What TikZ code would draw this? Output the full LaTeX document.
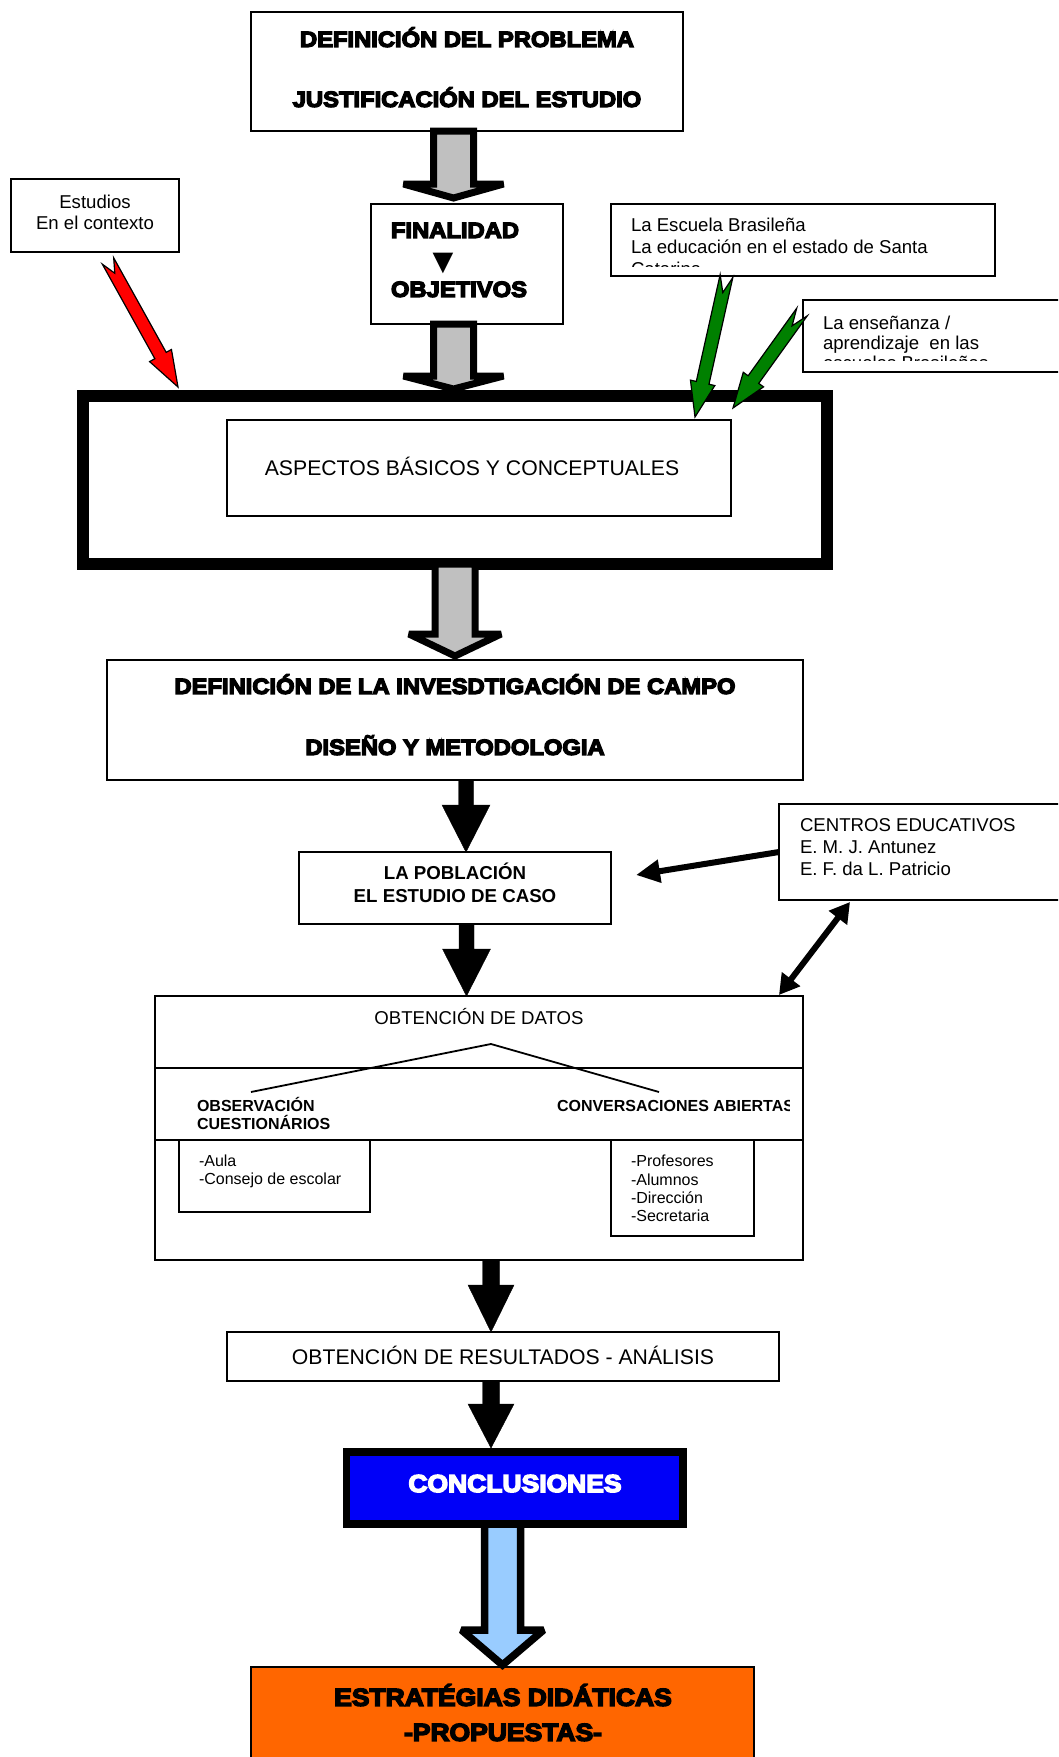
\documentclass[tikz,border=0pt]{standalone}
\usepackage{fontspec}
\setmainfont{Liberation Sans}
\newfontfamily\heavy[FakeBold=6,FakeStretch=1.08]{Liberation Sans Bold}
\newfontfamily\dejavu{DejaVu Sans}
\usetikzlibrary{calc,arrows.meta}
\definecolor{grayfill}{HTML}{C0C0C0}
\definecolor{lblue}{HTML}{99CCFF}
\definecolor{orng}{HTML}{FF6600}
\definecolor{dgreen}{HTML}{008000}
\definecolor{cblue}{HTML}{0000F8}
\newcommand\setfs[2]{\fontsize{#1}{#2}\selectfont}
% vertical block arrow: tail, tip, shaft half width, head half width, head length, style
\newcommand\vblock[6]{\draw[#6] let \p1=(#1), \p2=(#2) in (\x1-#3,\y1) -- (\x1-#3,\y2+#5) -- (\x1-#4,\y2+#5) -- (\x1,\y2) -- (\x1+#4,\y2+#5) -- (\x1+#3,\y2+#5) -- (\x1+#3,\y1) -- cycle;}
% notched arrow: tail, tip, shaft half, head half, head length, notch depth, style
\newcommand\notcharrow[7]{%
 \coordinate (nb) at ($(#2)!#5!(#1)$);
 \draw[#7] ($(#1)!#3!90:(#2)$) -- ($(nb)!#3!90:(#2)$) -- ($(nb)!#4!90:(#2)$) -- (#2) -- ($(nb)!#4!-90:(#2)$) -- ($(nb)!#3!-90:(#2)$) -- ($(#1)!#3!-90:(#2)$) -- ($(#1)!#6!(#2)$) -- cycle;}
\begin{document}
\begin{tikzpicture}[x=1pt,y=-1pt,
  box/.style={draw, line width=1.8pt, inner sep=0pt, outer sep=0pt, rectangle},
  txt/.style={inner sep=0pt, outer sep=0pt},
  grayarr/.style={draw=black, fill=grayfill, line width=7pt, miter limit=1.5},
  blkarr/.style={fill=black},
  bluearr/.style={draw=black, fill=lblue, line width=7.5pt, miter limit=1.5},
  redarr/.style={draw=black, fill=red, line width=1.2pt},
  grnarr/.style={draw=black, fill=dgreen, line width=1.2pt},
  thinarr/.style={line width=6pt}]
\useasboundingbox (0,0) rectangle (1058,1757);
\clip (0,0) rectangle (1058,1757);
\fill[white] (0,0) rectangle (1058,1757);

% boxes
\node[box, minimum width=432pt, minimum height=119pt] (top) at (467,71.5) {};
\node[box, minimum width=168pt, minimum height=73pt] (test) at (95,215.5) {};
\node[box, minimum width=192pt, minimum height=120pt] (fin) at (467,264) {};
\node[box, minimum width=384pt, minimum height=72pt] (esc) at (803,240) {};
\node[box, minimum width=267pt, minimum height=72pt] (ens) at (936.5,336) {};
\node[draw, line width=12pt, inner sep=0pt, outer sep=0pt, minimum width=744pt, minimum height=168pt] (thick) at (455,480) {};
\node[box, minimum width=504pt, minimum height=96pt] (asp) at (479,468) {};
\node[box, minimum width=696pt, minimum height=120pt] (definv) at (455,720) {};
\node[box, minimum width=312pt, minimum height=72pt] (pob) at (455,888) {};
\node[box, minimum width=291pt, minimum height=96pt] (cent) at (924.5,852) {};
\node[box, minimum width=648pt, minimum height=264pt] (obt) at (479,1128) {};
\node[box, minimum width=191pt, minimum height=72pt] (aula) at (274.5,1176) {};
\node[box, minimum width=143pt, minimum height=96pt] (prof) at (682.5,1188) {};
\node[box, minimum width=552pt, minimum height=49pt] (res) at (503,1356.5) {};
\node[draw, line width=7.5pt, fill=cblue, inner sep=0pt, outer sep=0pt, minimum width=336.5pt, minimum height=72pt] (conc) at (514.75,1488) {};
\node[box, fill=orng, minimum width=503pt, minimum height=113pt] (estrat) at (502.5,1723.5) {};

% inner lines of the data box
\draw[line width=1.8pt] ($(obt.north west)+(0,72)$) -- ($(obt.north east)+(0,72)$);
\draw[line width=1.8pt] ($(obt.north west)+(0,144)$) -- ($(obt.north east)+(0,144)$);
\draw[line width=1.8pt] ($(obt.north west)+(96,96)$) -- ($(obt.north)+(12,48)$) -- ($(obt.north east)+(-144,96)$);

% block arrows
\vblock{$(top.south)+(-13.5,0)$}{$(fin.north)+(-13.5,-6)$}{20pt}{50pt}{14pt}{grayarr}
\vblock{$(fin.south)+(-13.5,0)$}{$(thick.north)+(-1.5,-7)$}{20pt}{50pt}{13pt}{grayarr}
\vblock{$(thick.south)$}{$(definv.north)+(0,-4)$}{20pt}{46pt}{22pt}{grayarr}
\vblock{$(definv.south)+(11,0)$}{$(pob.north)+(11,0)$}{7.5pt}{24pt}{47pt}{blkarr}
\vblock{$(pob.south)+(11.5,0)$}{$(obt.north)+(-12.5,0)$}{7.5pt}{24pt}{47pt}{blkarr}
\vblock{$(obt.south)+(12,0)$}{$(res.north)+(-12,0)$}{8.5pt}{23pt}{47pt}{blkarr}
\vblock{$(res.south)+(-12,0)$}{$(conc.north)+(-23.75,-4)$}{8.5pt}{23pt}{44pt}{blkarr}
\vblock{$(conc.south)+(-12.25,0)$}{$(estrat.north)+(0,-2)$}{18pt}{41pt}{35pt}{bluearr}

% notched arrows
\coordinate (rt) at ($(test.south)+(13,9)$);
\coordinate (rp) at ($(thick.north west)+(95,-9)$);
\notcharrow{rt}{rp}{6.5pt}{12.5pt}{36pt}{14pt}{redarr}
\coordinate (g1t) at ($(esc.south)+(-76.5,0)$);
\coordinate (g1p) at ($(asp.north east)+(-36,-3)$);
\notcharrow{g1t}{g1p}{6.5pt}{12.5pt}{35pt}{17pt}{grnarr}
\coordinate (g2t) at ($(ens.west)+(-1,-24)$);
\coordinate (g2p) at ($(thick.north east)+(-94,12)$);
\notcharrow{g2t}{g2p}{6.5pt}{12.5pt}{35pt}{17pt}{grnarr}

% thin arrows
\draw[thinarr, -{Triangle[length=24pt,width=22pt]}] (cent.west) -- ($(pob.east)+(25,-13)$);
\draw[thinarr, {Triangle[length=20pt,width=22pt]}-{Triangle[length=20pt,width=22pt]}] ($(cent.south west)+(71,2)$) -- ($(obt.north east)+(-24,-1)$);

% texts
\node[txt, anchor=north, align=center, font=\heavy\setfs{22}{60}] (ttop) at (467,24.9) {\rule{0pt}{1em}DEFINICIÓN DEL PROBLEMA\\JUSTIFICACIÓN DEL ESTUDIO};
\node[txt, anchor=north, align=center, font=\setfs{18.6}{21}] (ttest) at (95,190.1) {\rule{0pt}{1em}Estudios\\En el contexto};
\node[txt, anchor=north west, align=left, font=\heavy\setfs{22}{59}] (tfin) at (391,215.9) {\rule{0pt}{1em}FINALIDAD\\OBJETIVOS};
\node[txt, font=\dejavu\setfs{27}{27}] (ttri) at (443,263) {▼};
\begin{scope}
\clip (611,204) rectangle (995,266);
\node[txt, anchor=north west, align=left, font=\setfs{18.6}{22}] (tesc) at (631,213.1) {\rule{0pt}{1em}La Escuela Brasileña\\La educación en el estado de Santa\\Catarina};
\end{scope}
\begin{scope}
\clip (803,300) rectangle (1058,360);
\node[txt, anchor=north west, align=left, font=\setfs{18.6}{20}] (tens) at (823,311.1) {\rule{0pt}{1em}La enseñanza /\\aprendizaje\ \ en las\\escuelas Brasileñas};
\end{scope}
\node[txt, anchor=base, font=\setfs{21.2}{25}] (tasp) at (472,475.6) {ASPECTOS BÁSICOS Y CONCEPTUALES};
\node[txt, anchor=north, align=center, font=\heavy\setfs{22}{61}] (tdef) at (455,671.9) {\rule{0pt}{1em}DEFINICIÓN DE LA INVESDTIGACIÓN DE CAMPO\\DISEÑO Y METODOLOGIA};
\node[txt, anchor=north, align=center, font=\bfseries\setfs{18.7}{23}] (tpob) at (455,861) {\rule{0pt}{1em}LA POBLACIÓN\\EL ESTUDIO DE CASO};
\node[txt, anchor=north west, align=left, font=\setfs{18.6}{22}] (tcent) at (800,813.1) {\rule{0pt}{1em}CENTROS EDUCATIVOS\\E. M. J. Antunez\\E. F. da L. Patricio};
\node[txt, anchor=base, font=\setfs{18.6}{22}] (tobt) at (479,1024.7) {OBTENCIÓN DE DATOS};
\begin{scope}
\clip (155,1068) rectangle (803,1130);
\node[txt, anchor=north west, align=left, font=\bfseries\setfs{16}{18}] (tobs) at (197,1095.7) {\rule{0pt}{1em}OBSERVACIÓN\\CUESTIONÁRIOS};
\end{scope}
\begin{scope}
\clip (155,1068) rectangle (789,1140);
\node[txt, anchor=north west, align=left, font=\bfseries\setfs{16}{18}] (tconv) at (557,1095.7) {\rule{0pt}{1em}CONVERSACIONES ABIERTAS};
\end{scope}
\node[txt, anchor=north west, align=left, font=\setfs{16}{18}] (taula) at (199,1150.7) {\rule{0pt}{1em}-Aula\\-Consejo de escolar};
\node[txt, anchor=north west, align=left, font=\setfs{16}{18.3}] (tprof) at (631,1150.7) {\rule{0pt}{1em}-Profesores\\-Alumnos\\-Dirección\\-Secretaria};
\node[txt, anchor=base, font=\setfs{21.2}{25}] (tres) at (503,1364.1) {OBTENCIÓN DE RESULTADOS - ANÁLISIS};
\node[txt, anchor=base, text=white, font=\heavy\setfs{24.5}{28}] (tconc) at (515,1492) {CONCLUSIONES};
\node[txt, anchor=north, align=center, font=\heavy\setfs{24.5}{35}] (testr) at (503,1681.3) {\rule{0pt}{1em}ESTRATÉGIAS DIDÁTICAS\\-PROPUESTAS-};
\end{tikzpicture}
\end{document}
